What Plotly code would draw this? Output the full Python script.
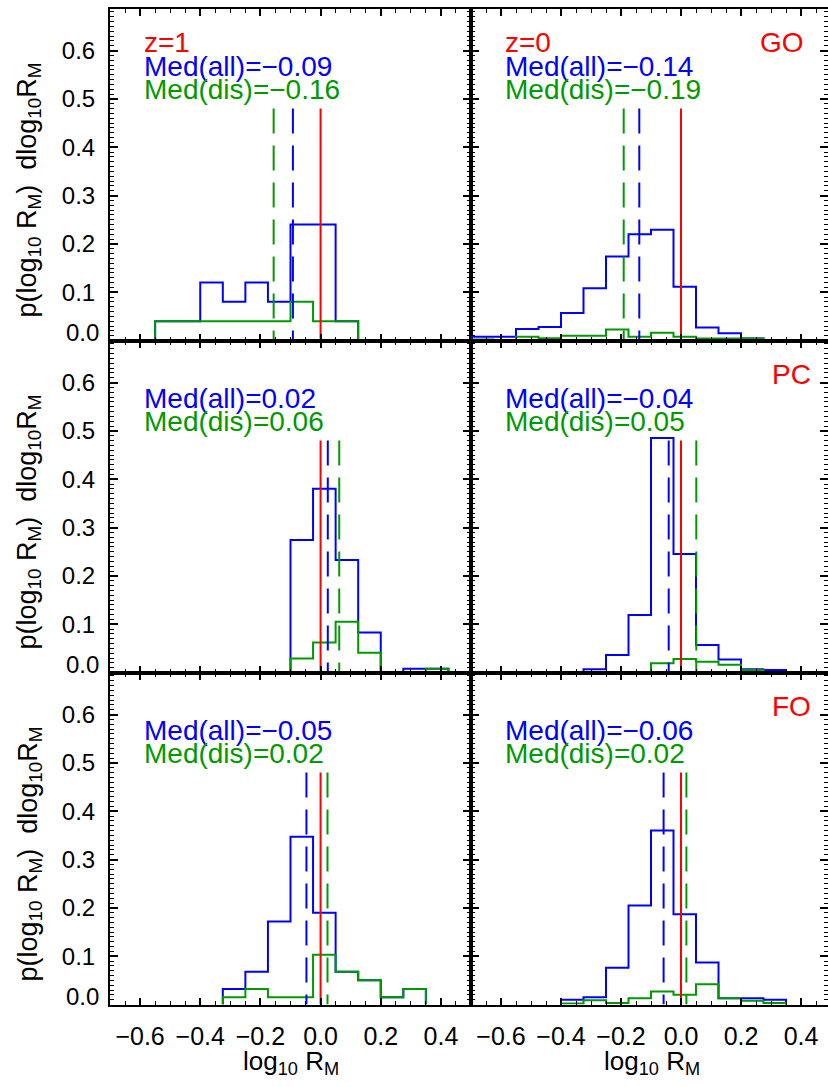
import plotly.graph_objects as go

W, H = 828, 1087
FONT = "Liberation Sans"
BLUE = "#0000ff"
GREEN = "#009a00"
RED = "#ff0000"

# ---------------- data ----------------
bin_edges = [-0.7, -0.625, -0.55, -0.475, -0.4, -0.325, -0.25, -0.175, -0.1,
             -0.025, 0.05, 0.125, 0.2, 0.275, 0.35, 0.425, 0.5]

x_tick_vals = [-0.6, -0.4, -0.2, 0.0, 0.2, 0.4]
x_tick_text = ["\u22120.6", "\u22120.4", "\u22120.2", "0.0", "0.2", "0.4"]
y_tick_vals = [0.1, 0.2, 0.3, 0.4, 0.5, 0.6]
y_tick_text = ["0.1", "0.2", "0.3", "0.4", "0.5", "0.6"]
y_zero_label = "0.0"

redshift_labels = ["z=1", "z=0"]
class_labels = ["GO", "PC", "FO"]

# histogram heights per bin (16 bins), "all" (blue) and "dis" (green)
go_z1_all = [0, 0, 0.04, 0.04, 0.12, 0.08, 0.12, 0.08, 0.24, 0.24, 0.04, 0, 0, 0, 0, 0]
go_z1_dis = [0, 0, 0.04, 0.04, 0.04, 0.04, 0.04, 0.04, 0.08, 0.04, 0.04, 0, 0, 0, 0, 0]
go_z0_all = [0.008, 0.008, 0.024, 0.028, 0.057, 0.108, 0.174, 0.220, 0.229, 0.111, 0.027, 0.015, 0.004, 0, 0, 0]
go_z0_dis = [0.002, 0, 0.008, 0.0045, 0.010, 0.010, 0.023, 0.008, 0.016, 0.008, 0.004, 0.004, 0.004, 0, 0, 0]
pc_z1_all = [0, 0, 0, 0, 0, 0, 0, 0, 0.274, 0.380, 0.233, 0.083, 0, 0.008, 0.008, 0]
pc_z1_dis = [0, 0, 0, 0, 0, 0, 0, 0, 0.029, 0.062, 0.105, 0.041, 0, 0, 0.008, 0]
pc_z0_all = [0, 0, 0, 0, 0, 0.0066, 0.036, 0.119, 0.485, 0.245, 0.057, 0.027, 0.0066, 0.005, 0, 0]
pc_z0_dis = [0, 0, 0, 0, 0, 0, 0, 0, 0.019, 0.028, 0.022, 0.016, 0.005, 0, 0, 0]
fo_z1_all = [0, 0, 0, 0, 0, 0.032, 0.068, 0.172, 0.347, 0.190, 0.068, 0.050, 0.015, 0.032, 0, 0]
fo_z1_dis = [0, 0, 0, 0, 0, 0.015, 0.032, 0.015, 0.015, 0.103, 0.068, 0.050, 0.015, 0.032, 0, 0]
fo_z0_all = [0, 0, 0, 0, 0.010, 0.015, 0.076, 0.205, 0.360, 0.187, 0.087, 0.013, 0.013, 0.010, 0, 0]
fo_z0_dis = [0, 0, 0, 0, 0.002, 0.009, 0.003, 0.013, 0.027, 0.020, 0.042, 0.013, 0.008, 0.003, 0, 0]

hist_all = [go_z1_all, go_z0_all, pc_z1_all, pc_z0_all, fo_z1_all, fo_z0_all]
hist_dis = [go_z1_dis, go_z0_dis, pc_z1_dis, pc_z0_dis, fo_z1_dis, fo_z0_dis]

med_all = [-0.092, -0.139, 0.024, -0.041, -0.047, -0.058]
med_dis = [-0.156, -0.191, 0.062, 0.051, 0.023, 0.018]
marker_line_top = 0.48

# ---------------- layout geometry (pixels) ----------------
col_px = [(110, 471), (471, 828)]
row_px = [(8.5, 340.5), (340.5, 672.5), (672.5, 1004.5)]
x_ranges = [[-0.7, 0.5], [-0.7, 0.49]]
y_range = [0, 0.687]
class_label_x = [0.418, 0.44, 0.44]


def step_xy(vals):
    nz = [i for i, v in enumerate(vals) if v > 0]
    a, b = nz[0], nz[-1]
    xs = [bin_edges[a]] + bin_edges[a:b + 2]
    ys = [0] + list(vals[a:b + 1]) + [0]
    return xs, ys


def fmt(v):
    s = "%.2f" % v
    return s.replace("-", "\u2212")


fig = go.Figure()
annotations = []
layout = {}

minor_x = dict(dtick=0.05, tick0=0, ticklen=4, tickwidth=1, tickcolor="black",
               ticks="inside", showgrid=False)
minor_y = dict(dtick=0.01, tick0=0, ticklen=4, tickwidth=1, tickcolor="black",
               ticks="inside", showgrid=False)

for i in range(6):
    row, col = i // 2, i % 2
    xa = "x" if i == 0 else "x%d" % (i + 1)
    ya = "y" if i == 0 else "y%d" % (i + 1)
    xkey = "xaxis" if i == 0 else "xaxis%d" % (i + 1)
    ykey = "yaxis" if i == 0 else "yaxis%d" % (i + 1)
    x0, x1 = col_px[col]
    t0, t1 = row_px[row]
    layout[xkey] = dict(
        domain=[x0 / W, x1 / W], range=x_ranges[col], anchor=ya,
        showline=True, linecolor="black", linewidth=2, mirror="ticks",
        ticks="inside", ticklen=7, tickwidth=1.5, tickcolor="black",
        tickmode="array", tickvals=x_tick_vals, ticktext=x_tick_text,
        showticklabels=(row == 2), ticklabelstandoff=8,
        tickfont=dict(family=FONT, size=25, color="black"),
        minor=minor_x, showgrid=False, zeroline=False, fixedrange=True)
    layout[ykey] = dict(
        domain=[1 - t1 / H, 1 - t0 / H], range=y_range, anchor=xa,
        showline=True, linecolor="black", linewidth=2,
        mirror=("ticks" if col == 0 else False),
        ticks="inside", ticklen=8, tickwidth=1.5, tickcolor="black",
        tickmode="array", tickvals=y_tick_vals, ticktext=y_tick_text,
        showticklabels=(col == 0), ticklabelstandoff=8,
        tickfont=dict(family=FONT, size=24, color="black"),
        minor=minor_y, showgrid=False, zeroline=False, fixedrange=True)

    if col == 1:
        okey = "yaxis%d" % (7 + row)
        oname = "y%d" % (7 + row)
        layout[okey] = dict(
            overlaying=ya, side="right", anchor=xa, range=y_range,
            showline=False, ticks="inside", ticklen=8, tickwidth=1.5,
            tickcolor="black", tickmode="array", tickvals=y_tick_vals,
            showticklabels=False, minor=minor_y, showgrid=False,
            zeroline=False, fixedrange=True)
        fig.add_trace(go.Scatter(x=[], y=[], xaxis=xa, yaxis=oname,
                                 showlegend=False, hoverinfo="skip"))

    # histograms
    bx, by = step_xy(hist_all[i])
    fig.add_trace(go.Scatter(x=bx, y=by, mode="lines", line_shape="hv",
                             line=dict(color=BLUE, width=2),
                             xaxis=xa, yaxis=ya, showlegend=False))
    gx, gy = step_xy(hist_dis[i])
    fig.add_trace(go.Scatter(x=gx, y=gy, mode="lines", line_shape="hv",
                             line=dict(color=GREEN, width=2),
                             xaxis=xa, yaxis=ya, showlegend=False))
    # median lines
    fig.add_trace(go.Scatter(x=[med_dis[i], med_dis[i]], y=[marker_line_top, 0],
                             mode="lines", line=dict(color=GREEN, width=2, dash="25px,12px"),
                             xaxis=xa, yaxis=ya, showlegend=False))
    fig.add_trace(go.Scatter(x=[med_all[i], med_all[i]], y=[marker_line_top, 0],
                             mode="lines", line=dict(color=BLUE, width=2, dash="25px,12px"),
                             xaxis=xa, yaxis=ya, showlegend=False))
    fig.add_trace(go.Scatter(x=[0, 0], y=[marker_line_top, 0],
                             mode="lines", line=dict(color=RED, width=2),
                             xaxis=xa, yaxis=ya, showlegend=False))

    tf = dict(family=FONT, size=28)
    if row == 0:
        annotations.append(dict(x=-0.592, y=0.617, xref=xa, yref=ya, text=redshift_labels[col],
                                showarrow=False, xanchor="left", yanchor="middle",
                                font=dict(tf, color=RED)))
    annotations.append(dict(x=-0.592, y=0.568, xref=xa, yref=ya,
                            text="Med(all)=" + fmt(med_all[i]),
                            showarrow=False, xanchor="left", yanchor="middle",
                            font=dict(tf, color=BLUE)))
    annotations.append(dict(x=-0.592, y=0.519, xref=xa, yref=ya,
                            text="Med(dis)=" + fmt(med_dis[i]),
                            showarrow=False, xanchor="left", yanchor="middle",
                            font=dict(tf, color=GREEN)))
    if col == 1:
        annotations.append(dict(x=class_label_x[row], y=0.617, xref=xa, yref=ya,
                                text=class_labels[row],
                                showarrow=False, xanchor="right", yanchor="middle",
                                font=dict(tf, color=RED)))
    if col == 0:
        annotations.append(dict(x=101 / W, y=0, xref="paper", yref=ya, text=y_zero_label,
                                showarrow=False, xanchor="right", yanchor="middle", yshift=8,
                                font=dict(family=FONT, size=24, color="black")))
        cy = (t0 + t1) / 2 + 16
        annotations.append(dict(
            x=29 / W, y=1 - cy / H, xref="paper", yref="paper", textangle=-90,
            text="p(log<sub>10</sub> R<sub>M</sub>) \u00a0dlog<sub>10</sub>R<sub>M</sub>",
            showarrow=False, xanchor="center", yanchor="middle",
            font=dict(family=FONT, size=27, color="black")))

for col in range(2):
    x0, x1 = col_px[col]
    if col == 1:
        x1 = 832
    annotations.append(dict(
        x=(x0 + x1) / 2 / W, y=1 - 1062 / H, xref="paper", yref="paper",
        text="log<sub>10</sub> R<sub>M</sub>", showarrow=False,
        xanchor="center", yanchor="middle",
        font=dict(family=FONT, size=26, color="black")))

fig.update_layout(width=W, height=H, margin=dict(l=0, r=0, t=0, b=0),
                  paper_bgcolor="white", plot_bgcolor="white",
                  showlegend=False, annotations=annotations, **layout)

fig.write_html("out.html")
